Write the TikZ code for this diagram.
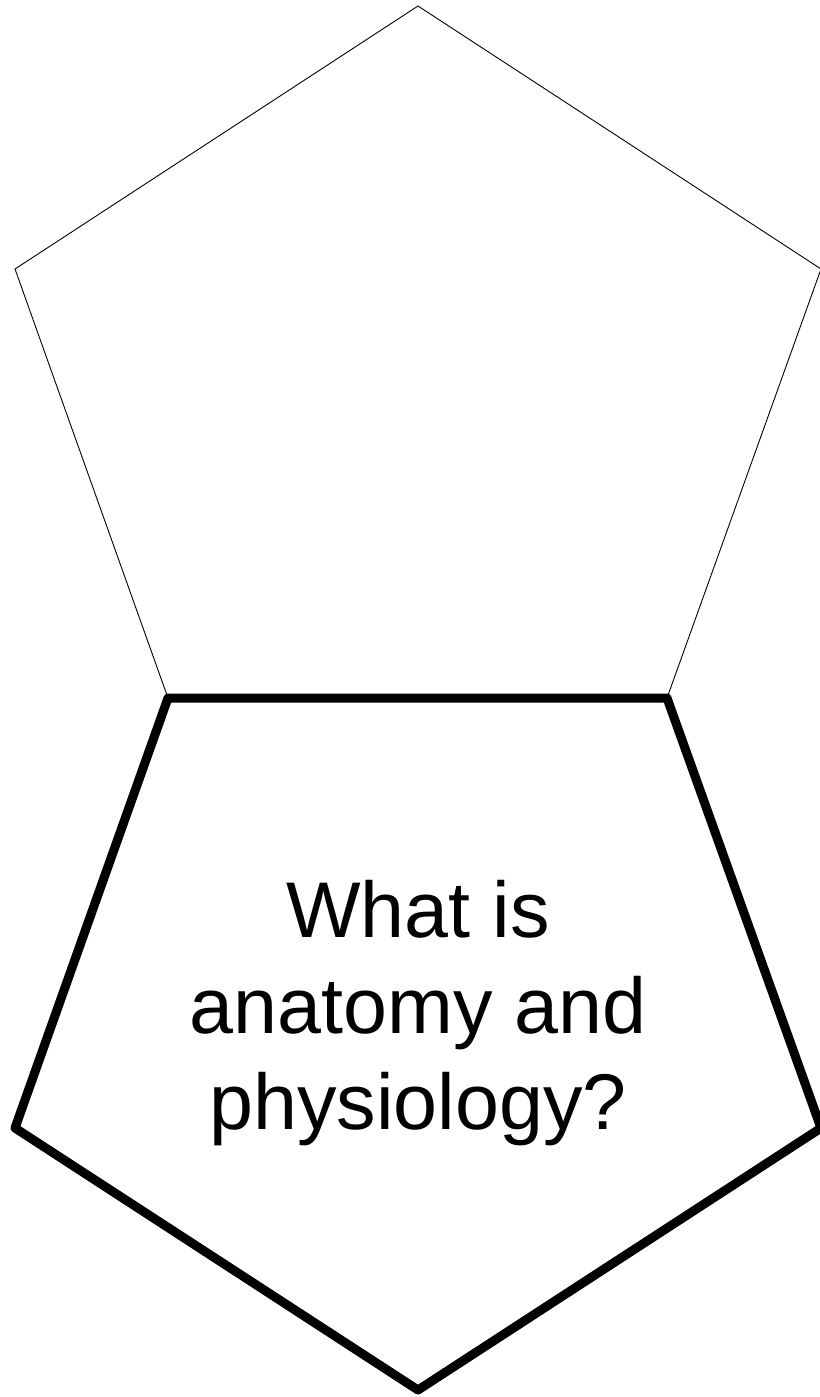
\documentclass[tikz,border=0pt]{standalone}
\usepackage{fontspec}
\setmainfont{Liberation Sans}
\begin{document}
\begin{tikzpicture}[x=1pt,y=-1pt,
  thinpent/.style={draw,line width=0.9pt},
  thickpent/.style={draw,line width=9pt,line join=round},
  question/.style={align=center,inner sep=0pt,font=\fontsize{79}{96}\selectfont}]
\useasboundingbox (0,0) rectangle (819,1397);
% upper pentagon (thin)
\coordinate (ut) at (418,6);
\coordinate (ul) at (15,269);
\coordinate (ur) at (821,269);
\coordinate (ubl) at (168,698);
\coordinate (ubr) at (667,698);
\draw[thinpent] (ut) -- (ur) -- (ubr) -- (ubl) -- (ul) -- cycle;
% lower pentagon (thick)
\coordinate (ll) at (15,1128);
\coordinate (lr) at (821,1128);
\coordinate (lb) at (418,1390);
\draw[thickpent] (ubl) -- (ubr) -- (lr) -- (lb) -- (ll) -- cycle;
\node[question,anchor=base] (q) at (418,1129) {What is\\anatomy and\\physiology?};
\end{tikzpicture}
\end{document}
